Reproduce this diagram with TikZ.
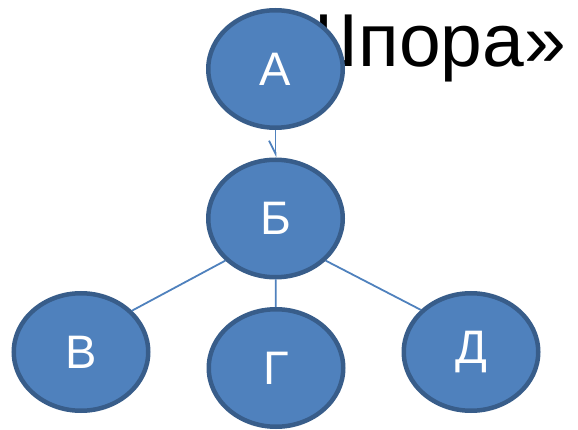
\documentclass[tikz,border=0pt]{standalone}
\usepackage{fontspec}
\setmainfont{Liberation Sans}
\usetikzlibrary{shapes.geometric,arrows.meta}
\definecolor{nodefill}{HTML}{4F81BD}
\definecolor{nodeline}{HTML}{385D8A}
\begin{document}
\begin{tikzpicture}[x=1pt,y=-1pt,
  bubble/.style={ellipse, draw=nodeline, line width=4.5pt, fill=nodefill,
    minimum width=134.5pt, minimum height=117.5pt, inner sep=0pt,
    text=white, font=\fontsize{47}{47}\selectfont},
  link/.style={draw=nodefill, line width=1.8pt}]
\useasboundingbox (0,0) rectangle (578,430);
% title, partly covered by the top bubble
\node[anchor=base east, inner sep=0pt, font=\fontsize{75}{75}\selectfont] (title) at (566,67) {«Шпора»};
% bubbles
\node[bubble] (A) at (275.5,69) {А};
\node[bubble] (B) at (275.5,218.5) {Б};
\node[bubble] (V) at (81,352) {В};
\node[bubble] (G) at (276,368) {Г};
\node[bubble] (D) at (471,352) {Д};
% connectors
\draw[link, -{Straight Barb[harpoon,swap,length=13pt,width=13pt,line width=1.8pt]}] (A) -- (B);
\draw[link] (B.220) -- (V.39);
\draw[link] (B) -- (G);
\draw[link] (B.320) -- (D.140);
\end{tikzpicture}
\end{document}
